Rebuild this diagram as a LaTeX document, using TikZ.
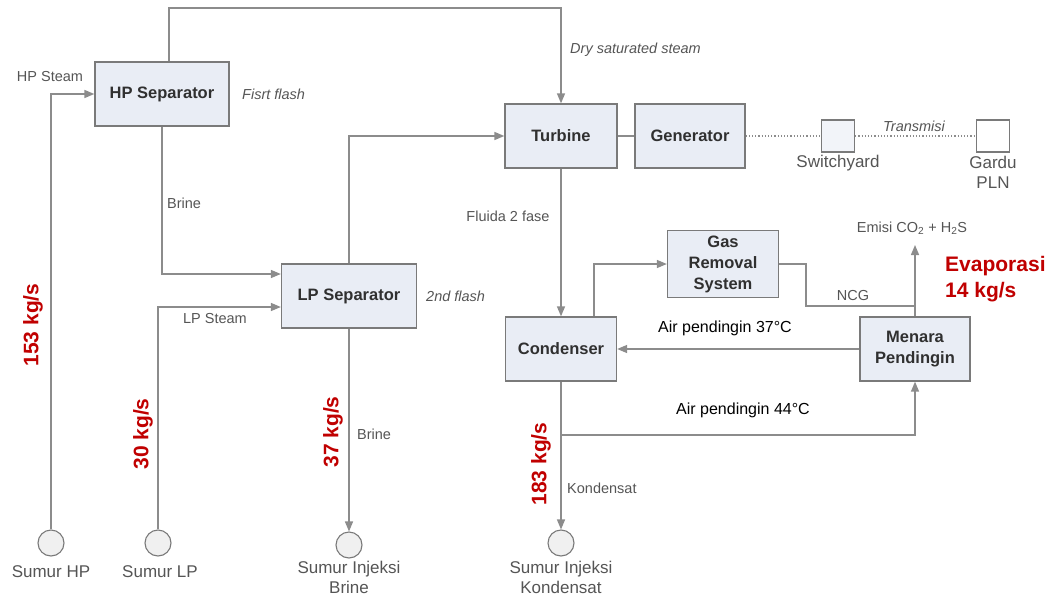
\documentclass[tikz,border=0pt]{standalone}
\usepackage{fontspec}
\setmainfont{Liberation Sans}
\usetikzlibrary{arrows.meta,calc}
\definecolor{ln}{HTML}{8C8C8C}
\definecolor{bx}{HTML}{E9EDF5}
\definecolor{bd}{HTML}{7A7A7A}
\definecolor{tx}{HTML}{303030}
\definecolor{lb}{HTML}{555555}
\definecolor{rd}{HTML}{C00000}
\begin{document}
\begin{tikzpicture}[x=1pt,y=-1pt,
  pbox/.style={draw=bd, fill=bx, line width=1.3pt, text=tx, font=\fontsize{16.5}{18}\selectfont\bfseries, align=center, inner sep=0pt},
  sbox/.style={draw=bd, fill=bx!60!white, line width=1.3pt, minimum width=33pt, minimum height=32pt, inner sep=0pt},
  well/.style={circle, draw=bd, fill=gray!12, line width=1.1pt, minimum size=26pt, inner sep=0pt},
  ln/.style={draw=ln, line width=1.4pt},
  arr/.style={ln, -{Triangle[length=10pt,width=8pt]}},
  dotl/.style={draw=ln, line width=1.2pt, dotted},
  lab/.style={text=lb, font=\fontsize{14.5}{16}\selectfont, inner sep=0pt},
  ital/.style={lab, font=\fontsize{14.5}{16}\selectfont\itshape},
  blk/.style={text=black, font=\fontsize{16}{18}\selectfont, inner sep=0pt},
  wlab/.style={text=lb, font=\fontsize{17}{20}\selectfont, align=center, inner sep=0pt},
  red/.style={text=rd, font=\fontsize{21}{24}\selectfont\bfseries, inner sep=0pt}]
\useasboundingbox (0,0) rectangle (1056,599);

% boxes
\node[pbox, minimum width=134pt, minimum height=64pt] (hps) at (162,94) {HP Separator};
\node[pbox, minimum width=135pt, minimum height=64pt] (lps) at (349,296) {LP Separator};
\node[pbox, minimum width=112pt, minimum height=64pt] (tur) at (561,136) {Turbine};
\node[pbox, minimum width=110pt, minimum height=64pt] (gen) at (690,136) {Generator};
\node[pbox, minimum width=111pt, minimum height=64pt] (con) at (561,349) {Condenser};
\node[pbox, minimum width=111pt, minimum height=67pt, font=\fontsize{16.5}{21}\selectfont\bfseries] (grs) at (723,264) {Gas\\Removal\\System};
\node[pbox, minimum width=110pt, minimum height=64pt, font=\fontsize{16.5}{21}\selectfont\bfseries] (mp) at (915,349) {Menara\\Pendingin};
\node[sbox] (sw) at (838,136) {};
\node[sbox, fill=white] (pln) at (993,136) {};

% wells
\node[well] (shp) at (51,543) {};
\node[well] (slp) at (158,543) {};
\node[well] (sib) at (349,545) {};
\node[well] (sik) at (561,543) {};

% coordinates
\coordinate (top) at (169,8);
\coordinate (ncg) at (806,306);
\coordinate (emi) at (915,245);
\coordinate (br) at (561,435);

% connectors
\draw[arr] ([xshift=7pt]hps.north) |- (top) -| (tur.north);
\draw[arr] (shp.north) |- (hps.west);
\draw[arr] (hps.south) |- ([yshift=22pt]lps.west);
\draw[arr] (slp.north) |- ([yshift=-11pt]lps.west);
\draw[arr] (lps.north) |- (tur.west);
\draw[arr] (lps.south) -- (sib.north);
\draw[ln] (tur.east) -- (gen.west);
\draw[dotl] (gen.east) -- (sw.west);
\draw[dotl] (sw.east) -- (pln.west);
\draw[arr] (tur.south) -- (con.north);
\draw[arr] ([xshift=33pt]con.north) |- (grs.west);
\draw[ln] (grs.east) -| (ncg) -- (ncg -| mp.north);
\draw[arr] (mp.north) -- (emi);
\draw[arr] (mp.west) -- (con.east);
\draw[arr] (con.south) -- (sik.north);
\draw[arr] (br) -| (mp.south);

% labels
\node[lab, anchor=center] (l1) at (50,77) {HP Steam};
\node[ital, anchor=west] (l2) at (242,94) {Fisrt flash};
\node[ital, anchor=west] (l3) at (570,50) {Dry saturated steam};
\node[lab, anchor=west] (l4) at (167,203) {Brine};
\node[lab, anchor=center] (l5) at (215,319) {LP Steam};
\node[ital, anchor=west] (l6) at (426,296) {2nd flash};
\node[lab, anchor=west] (l7) at (357,434) {Brine};
\node[lab, anchor=center] (l8) at (508,216) {Fluida 2 fase};
\node[lab, anchor=west] (l9) at (567,488) {Kondensat};
\node[ital, anchor=center] (l10) at (914,126) {Transmisi};
\node[wlab] (l11) at (838,163) {Switchyard};
\node[wlab] (l12) at (993,172) {Gardu\\PLN};
\node[lab] (l13) at (912,228) {Emisi CO\textsubscript{2} + H\textsubscript{2}S};
\node[lab] (l14) at (853,296) {NCG};
\node[blk] (l15) at (725,328) {Air pendingin 37°C};
\node[blk] (l16) at (743,410) {Air pendingin 44°C};
\node[wlab] (l17) at (51,572) {Sumur HP};
\node[wlab] (l18) at (160,572) {Sumur LP};
\node[wlab] (l19) at (349,577) {Sumur Injeksi\\Brine};
\node[wlab] (l20) at (561,577) {Sumur Injeksi\\Kondensat};

% red values
\node[red, rotate=90] (r1) at (33,325) {153 kg/s};
\node[red, rotate=90] (r2) at (143,434) {30 kg/s};
\node[red, rotate=90] (r3) at (333,432) {37 kg/s};
\node[red, rotate=90] (r4) at (541,464) {183 kg/s};
\node[red, anchor=west, align=left, font=\fontsize{21}{26}\selectfont\bfseries] (r5) at (945,279) {Evaporasi\\14 kg/s};
\end{tikzpicture}
\end{document}
